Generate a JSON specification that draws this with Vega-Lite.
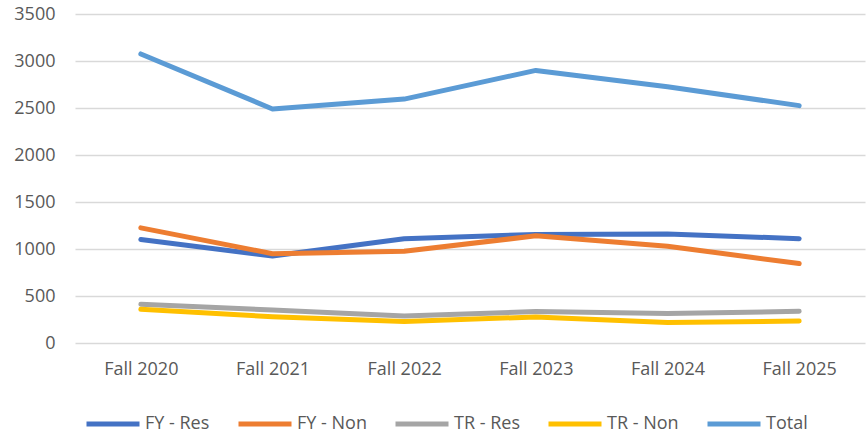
{
  "$schema": "https://vega.github.io/schema/vega-lite/v6.json",
  "width": 790,
  "height": 329,
  "autosize": {"type": "none"},
  "padding": {"left": 75, "top": 14, "right": 1, "bottom": 93},
  "background": "white",
  "config": {
    "view": {"stroke": null},
    "font": "Open Sans"
  },
  "data": {
    "values": [
      {"term": "Fall 2020", "series": "FY - Res", "value": 1100},
      {"term": "Fall 2021", "series": "FY - Res", "value": 925},
      {"term": "Fall 2022", "series": "FY - Res", "value": 1110},
      {"term": "Fall 2023", "series": "FY - Res", "value": 1155},
      {"term": "Fall 2024", "series": "FY - Res", "value": 1160},
      {"term": "Fall 2025", "series": "FY - Res", "value": 1110},
      {"term": "Fall 2020", "series": "FY - Non", "value": 1225},
      {"term": "Fall 2021", "series": "FY - Non", "value": 950},
      {"term": "Fall 2022", "series": "FY - Non", "value": 975},
      {"term": "Fall 2023", "series": "FY - Non", "value": 1140},
      {"term": "Fall 2024", "series": "FY - Non", "value": 1030},
      {"term": "Fall 2025", "series": "FY - Non", "value": 845},
      {"term": "Fall 2020", "series": "TR - Res", "value": 412},
      {"term": "Fall 2021", "series": "TR - Res", "value": 350},
      {"term": "Fall 2022", "series": "TR - Res", "value": 287},
      {"term": "Fall 2023", "series": "TR - Res", "value": 334},
      {"term": "Fall 2024", "series": "TR - Res", "value": 313},
      {"term": "Fall 2025", "series": "TR - Res", "value": 337},
      {"term": "Fall 2020", "series": "TR - Non", "value": 358},
      {"term": "Fall 2021", "series": "TR - Non", "value": 280},
      {"term": "Fall 2022", "series": "TR - Non", "value": 228},
      {"term": "Fall 2023", "series": "TR - Non", "value": 277},
      {"term": "Fall 2024", "series": "TR - Non", "value": 217},
      {"term": "Fall 2025", "series": "TR - Non", "value": 234},
      {"term": "Fall 2020", "series": "Total", "value": 3075},
      {"term": "Fall 2021", "series": "Total", "value": 2490},
      {"term": "Fall 2022", "series": "Total", "value": 2595},
      {"term": "Fall 2023", "series": "Total", "value": 2900},
      {"term": "Fall 2024", "series": "Total", "value": 2725},
      {"term": "Fall 2025", "series": "Total", "value": 2525}
    ]
  },
  "mark": {"type": "line", "strokeWidth": 5, "strokeCap": "round", "strokeJoin": "round"},
  "encoding": {
    "x": {
      "field": "term",
      "type": "ordinal",
      "scale": {"padding": 0.5},
      "axis": {
        "title": null,
        "labelAngle": 0,
        "labelFontSize": 18,
        "labelColor": "#595959",
        "labelPadding": 17,
        "ticks": false,
        "domain": false,
        "grid": false
      }
    },
    "y": {
      "field": "value",
      "type": "quantitative",
      "scale": {"domain": [0, 3500], "nice": false},
      "axis": {
        "title": null,
        "format": "d",
        "values": [0, 500, 1000, 1500, 2000, 2500, 3000, 3500],
        "labelFontSize": 18,
        "labelColor": "#595959",
        "labelPadding": 20,
        "ticks": false,
        "domain": false,
        "grid": true,
        "gridColor": "#d9d9d9",
        "gridWidth": 1.5
      }
    },
    "color": {
      "field": "series",
      "type": "nominal",
      "scale": {
        "domain": ["FY - Res", "FY - Non", "TR - Res", "TR - Non", "Total"],
        "range": ["#4472C4", "#ED7D31", "#A5A5A5", "#FFC000", "#5B9BD5"]
      },
      "legend": {
        "title": null,
        "orient": "none",
        "direction": "horizontal",
        "legendX": 9,
        "legendY": 381,
        "symbolType": "stroke",
        "symbolSize": 2809,
        "symbolStrokeWidth": 5,
        "labelFontSize": 18,
        "labelColor": "#595959",
        "labelOffset": 3,
        "columnPadding": 18,
        "labelLimit": 200
      }
    }
  }
}
